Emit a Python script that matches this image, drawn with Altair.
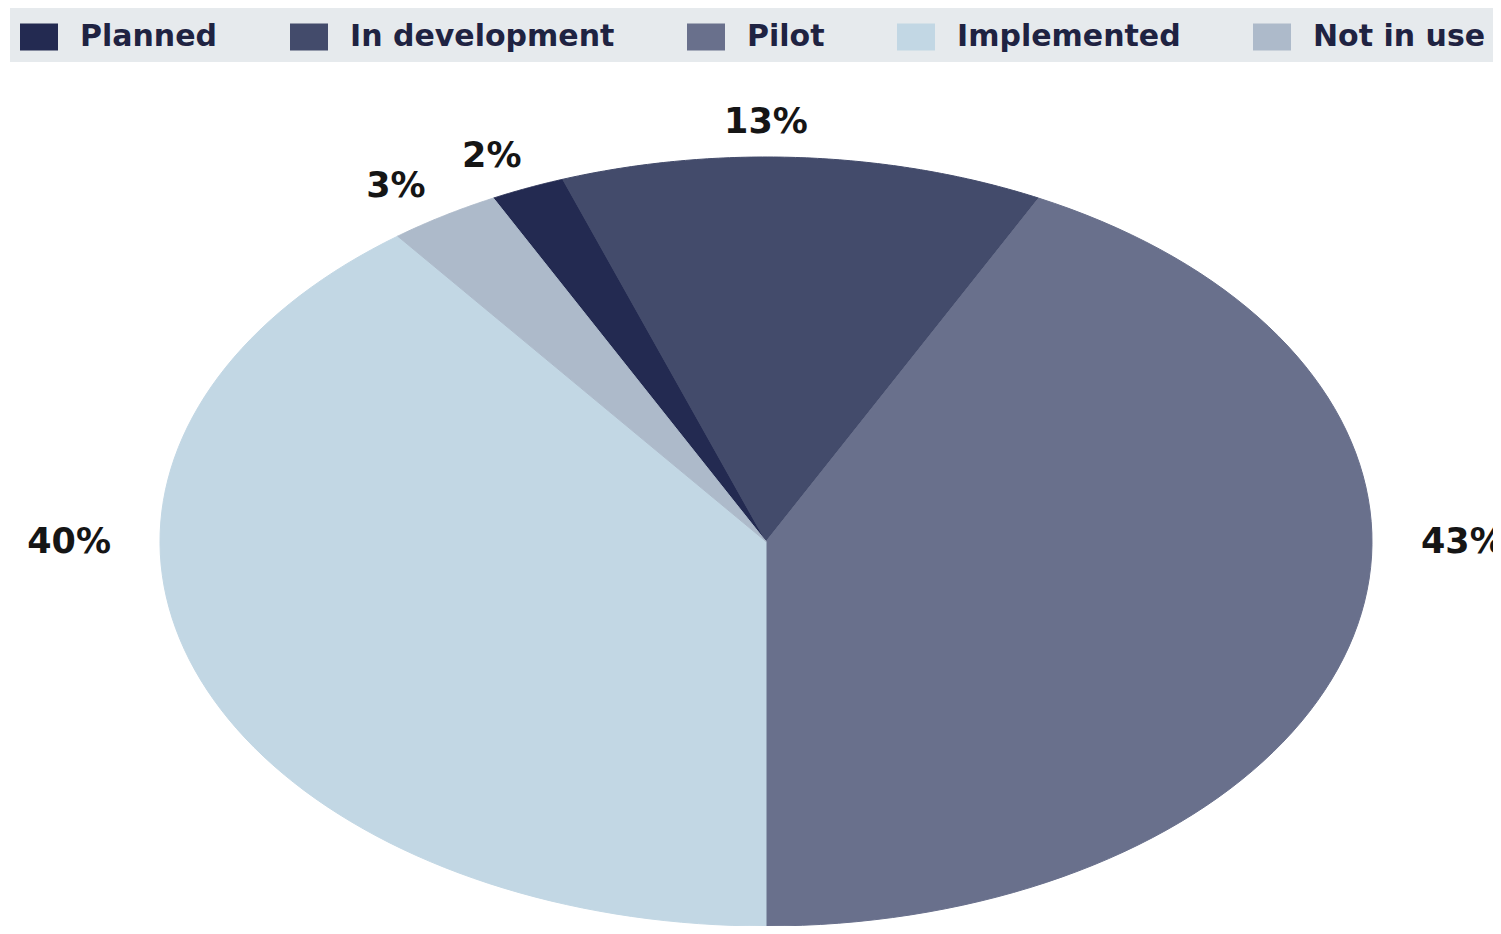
import altair as alt
import pandas as pd

# ---- data ----
categories = ["Planned", "In development", "Pilot", "Implemented", "Not in use"]
shares = [2, 13, 43, 40, 3]
colors = ["#232a51", "#434b6b", "#69708c", "#c2d7e4", "#adbaca"]
# order of the slices, clockwise starting at 6 o'clock
clockwise_from_bottom = ["Implemented", "Not in use", "Planned", "In development", "Pilot"]

df = pd.DataFrame({
    "category": categories,
    "share": shares,
    "rank": [clockwise_from_bottom.index(c) for c in categories],
    "label": [f"{v}%" for v in shares],
})

N = 90  # arc resolution

xs = alt.Scale(domain=[-1, 1], nice=False, zero=False)
ys = alt.Scale(domain=[-1, 1], nice=False, zero=False)
color_scale = alt.Scale(domain=categories, range=colors)

base = alt.Chart(df).transform_window(
    cum="sum(share)", sort=[alt.SortField("rank")], frame=[None, 0]
).transform_joinaggregate(
    total="sum(share)"
).transform_calculate(
    a0="PI + 2*PI*(datum.cum - datum.share)/datum.total",
    a1="PI + 2*PI*datum.cum/datum.total",
)

pie = base.transform_calculate(
    k=f"sequence(0, {N + 2})"
).transform_flatten(["k"]).transform_calculate(
    ang=f"datum.a0 + (datum.a1 - datum.a0)*(datum.k - 1)/{N - 1}"
).transform_calculate(
    px=f"(datum.k == 0 || datum.k == {N + 1}) ? 0 : sin(datum.ang)",
    py=f"(datum.k == 0 || datum.k == {N + 1}) ? 0 : cos(datum.ang)",
).mark_line(strokeWidth=1, interpolate="linear").encode(
    x=alt.X("px:Q", scale=xs, axis=None),
    y=alt.Y("py:Q", scale=ys, axis=None),
    order=alt.Order("k:Q"),
    fill=alt.Fill(
        "category:N", scale=color_scale,
        legend=alt.Legend(
            title=None, orient="none", legendX=-150, legendY=-149,
            direction="horizontal", fillColor="#e6eaed", padding=10,
            symbolType="M-1,-0.71L1,-0.71L1,0.71L-1,0.71Z", symbolSize=1444,
            symbolStrokeWidth=0, symbolOpacity=1,
            labelFont="DejaVu Sans", labelFontWeight="bold", labelFontSize=30,
            labelColor="#1f2342", labelOffset=22, labelLimit=500,
            columnPadding=72,
        ),
    ),
    stroke=alt.Stroke("category:N", scale=color_scale, legend=None),
)

labels = base.transform_calculate(
    la="(datum.a0 <= 1.5*PI && datum.a1 >= 1.5*PI) ? 1.5*PI : "
       "((datum.a0 <= 2*PI && datum.a1 >= 2*PI) ? 2*PI : "
       "((datum.a0 <= 2.5*PI && datum.a1 >= 2.5*PI) ? 2.5*PI : (datum.a0 + datum.a1)/2))"
).transform_calculate(
    lx="1.15*sin(datum.la)", ly="1.09*cos(datum.la)"
).mark_text(
    font="DejaVu Sans", fontWeight="bold", fontSize=35, color="#151515",
    align="center", baseline="middle",
).encode(
    x=alt.X("lx:Q", scale=xs, axis=None),
    y=alt.Y("ly:Q", scale=ys, axis=None),
    text="label:N",
)

chart = alt.layer(pie, labels).properties(
    width=1212, height=769,
    autosize=alt.AutoSizeParams(type="none"),
    padding={"left": 152, "top": 149, "right": 121, "bottom": 0},
).configure_view(stroke=None)

chart.save("out.html", embed_options={"renderer": "svg", "actions": False})
